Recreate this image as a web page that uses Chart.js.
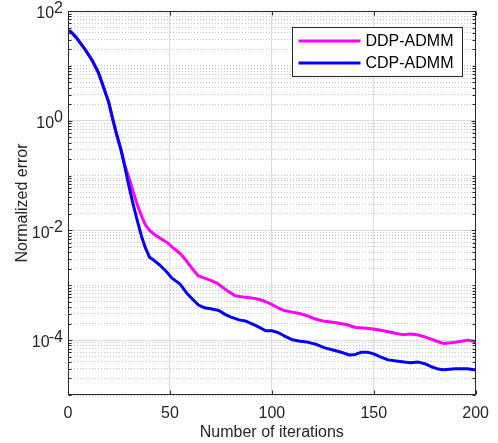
<!DOCTYPE html>
<html><head><meta charset="utf-8">
<script src="https://cdn.jsdelivr.net/npm/chart.js@4.4.0/dist/chart.umd.min.js"></script>
<style>html,body{margin:0;padding:0;background:#fff;} canvas{display:block;}</style>
</head><body>
<canvas id="c" width="498" height="443"></canvas>
<script>
// ---- data ----
const seriesNames = ['DDP-ADMM', 'CDP-ADMM'];
const iterDDP = [1,4,8,12,15,18,20,22,24,26,28,30,32,34,36,38,40,43,46,49,52,55,58,61,64,67,70,73,76,79,82,85,90,94,97,100,103,106,110,113,117,121,125,129,133,137,141,145,149,152,156,160,164,168,171,175,178,181,184,187,190,193,196,200];
const errDDP = [43.1,33.1,20.9,12.3,7.41,3.55,2.14,1.05,0.537,0.295,0.148,0.0891,0.0501,0.0295,0.0186,0.0126,0.0100,0.00813,0.00692,0.00589,0.00468,0.00380,0.00282,0.00200,0.00148,0.00135,0.00123,0.00110,9.12e-4,7.59e-4,6.46e-4,6.17e-4,5.89e-4,5.50e-4,5.01e-4,4.47e-4,3.89e-4,3.47e-4,3.24e-4,3.09e-4,2.82e-4,2.45e-4,2.24e-4,2.14e-4,2.04e-4,1.91e-4,1.70e-4,1.66e-4,1.62e-4,1.55e-4,1.45e-4,1.35e-4,1.26e-4,1.29e-4,1.26e-4,1.15e-4,1.05e-4,9.55e-5,8.71e-5,8.91e-5,9.12e-5,9.55e-5,1.00e-4,9.33e-5];
const iterCDP = [1,4,8,12,15,18,20,22,24,26,28,30,32,34,36,38,40,42,45,48,51,55,58,61,64,67,70,74,77,80,84,87,90,93,97,100,103,106,110,114,118,122,126,130,134,138,141,144,147,150,153,157,161,165,168,172,175,178,181,184,187,190,193,196,200];
const errCDP = [43.1,33.1,20.9,12.3,7.41,3.55,2.14,1.05,0.537,0.295,0.138,0.0617,0.0295,0.0151,0.00794,0.00479,0.00324,0.00288,0.00234,0.00182,0.00135,0.00105,7.41e-4,5.62e-4,4.37e-4,3.89e-4,3.72e-4,3.47e-4,2.95e-4,2.63e-4,2.34e-4,2.24e-4,2.00e-4,1.78e-4,1.48e-4,1.48e-4,1.38e-4,1.20e-4,1.02e-4,9.55e-5,9.12e-5,8.32e-5,7.24e-5,6.61e-5,6.03e-5,5.37e-5,5.50e-5,6.03e-5,6.03e-5,5.62e-5,5.01e-5,4.37e-5,4.17e-5,3.98e-5,3.89e-5,3.98e-5,3.72e-5,3.31e-5,3.02e-5,2.88e-5,2.95e-5,3.02e-5,3.02e-5,3.02e-5,2.85e-5];
const xTickValues = [0,50,100,150,200];
const yMajorValues = [1e-4,1e-2,1,100];
const yTickBase = '10';
const yTickExponents = ['-4','-2','0','2'];
const xTitle = 'Number of iterations';
const yTitle = 'Normalized error';

// minor log tick positions (2..9 x 10^k, and the odd decades)
const yMinorValues = [];
for (let k = -5; k <= 1; k++) {
  for (let m = 1; m <= 9; m++) {
    const v = Number((m * Math.pow(10, k)).toPrecision(6));
    if (!yMajorValues.some(t => Math.abs(t - v) / t < 1e-9)) yMinorValues.push(v);
  }
}

const FONT = "'Liberation Sans', Arial, Helvetica, sans-serif";
const AXC = '#262626';

const boxPlugin = {
  id: 'boxPlugin',
  afterDraw(chart) {
    const {ctx, chartArea: a} = chart;
    const x = chart.scales.x, y = chart.scales.y;
    const L = Math.round(a.left) + 0.5, R = Math.round(a.right) - 0.5;
    const T = Math.round(a.top) + 0.5, B = Math.round(a.bottom) - 0.5;
    ctx.save();
    ctx.strokeStyle = AXC;
    ctx.lineWidth = 1;
    ctx.beginPath();
    ctx.rect(L, T, R - L, B - T);
    xTickValues.forEach(v => {
      const px = Math.round(x.getPixelForValue(v)) + 0.5;
      ctx.moveTo(px, B); ctx.lineTo(px, B - 4);
      ctx.moveTo(px, T); ctx.lineTo(px, T + 4);
    });
    const yt = (v, len) => {
      const py = Math.round(y.getPixelForValue(v)) + 0.5;
      ctx.moveTo(L, py); ctx.lineTo(L + len, py);
      ctx.moveTo(R, py); ctx.lineTo(R - len, py);
    };
    yMajorValues.forEach(v => yt(v, 4));
    yMinorValues.forEach(v => yt(v, 3));
    ctx.stroke();

    // legend box (top-right inside axes)
    const lw = 170, lh = 49;
    const lx = Math.round(a.right - 14 - lw) + 0.5, ly = Math.round(a.top + 16) + 0.5;
    ctx.fillStyle = '#fff';
    ctx.fillRect(lx, ly, lw, lh);
    ctx.strokeStyle = AXC;
    ctx.strokeRect(lx, ly, lw, lh);
    ctx.font = '16px ' + FONT;
    ctx.textBaseline = 'middle';
    ctx.textAlign = 'left';
    chart.data.datasets.forEach((ds, i) => {
      const cy = Math.round(ly + 13 + i * 22);
      ctx.strokeStyle = ds.borderColor;
      ctx.lineWidth = 3;
      ctx.beginPath();
      ctx.moveTo(lx + 6, cy); ctx.lineTo(lx + 68, cy);
      ctx.stroke();
      ctx.fillStyle = '#000';
      ctx.fillText(ds.label, lx + 73, cy + 1);
    });
    ctx.restore();
  }
};

Chart.defaults.font.family = FONT;
Chart.defaults.font.size = 16;
Chart.defaults.color = AXC;

function yLabel(v) {
  const i = yMajorValues.findIndex(t => Math.abs(t - v) / t < 1e-9);
  if (i < 0) return '';
  const e = yTickExponents[i];
  // exponent on the upper line, base shifted left by the exponent's width
  return [e, yTickBase + (e.length > 1 ? '   ' : '  ')];
}

new Chart(document.getElementById('c'), {
  type: 'line',
  data: {
    datasets: [
      { label: seriesNames[0], data: iterDDP.map((v, i) => ({x: v, y: errDDP[i]})),
        borderColor: '#FF00FF', backgroundColor: '#FF00FF', borderWidth: 3,
        pointRadius: 0, tension: 0, order: 1, borderJoinStyle: 'round', borderCapStyle: 'round' },
      { label: seriesNames[1], data: iterCDP.map((v, i) => ({x: v, y: errCDP[i]})),
        borderColor: '#0000FF', backgroundColor: '#0000FF', borderWidth: 3,
        pointRadius: 0, tension: 0, order: 0, borderJoinStyle: 'round', borderCapStyle: 'round' }
    ]
  },
  options: {
    responsive: false,
    animation: false,
    devicePixelRatio: 1,
    layout: { padding: { top: 11, right: 21, left: 0, bottom: 0 } },
    plugins: { legend: { display: false }, tooltip: { enabled: false } },
    scales: {
      x: {
        type: 'linear', min: 0, max: 200,
        afterBuildTicks: s => { s.ticks = xTickValues.map(v => ({value: v})); },
        afterFit: s => { s.height = 48; },
        ticks: { color: AXC, font: {size: 16}, padding: 9, maxRotation: 0, autoSkip: false,
                 callback: v => String(v) },
        grid: { color: '#dcdcdc', lineWidth: 1, drawTicks: false },
        border: { display: false },
        title: { display: true, text: xTitle, color: AXC, font: {size: 16}, padding: {top: 0, bottom: 1} }
      },
      y: {
        type: 'logarithmic', min: 1e-5, max: 100, position: 'left',
        afterBuildTicks: s => { s.ticks = yMajorValues.map(v => ({value: v})); },
        afterFit: s => { s.width = 68; s.paddingTop = 0; s.paddingBottom = 0; },
        ticks: { color: AXC, font: {size: 16, lineHeight: 0.36}, padding: 5, autoSkip: false,
                 callback: v => yLabel(v) },
        grid: { color: '#dcdcdc', lineWidth: 1, drawTicks: false },
        border: { display: false },
        title: { display: true, text: yTitle, color: AXC, font: {size: 16, lineHeight: 1.2}, padding: {top: 13, bottom: 0} }
      },
      yMinor: {
        type: 'logarithmic', min: 1e-5, max: 100, position: 'left',
        afterBuildTicks: s => { s.ticks = yMinorValues.map(v => ({value: v})); },
        afterFit: s => { s.width = 0; s.paddingTop = 0; s.paddingBottom = 0; },
        ticks: { display: false },
        grid: { color: '#c4c4c4', lineWidth: 1, drawTicks: false },
        border: { display: false, dash: [1, 2] }
      }
    }
  },
  plugins: [boxPlugin]
});
</script>
</body></html>
